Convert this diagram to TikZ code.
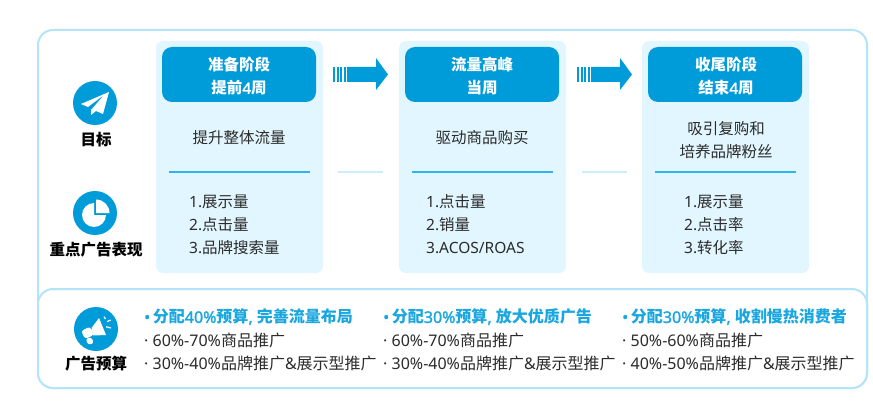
\documentclass[tikz,border=0pt]{standalone}
\usepackage{fontspec}
\setmainfont{Noto Sans CJK SC}
\newfontfamily\latinfont{Noto Sans}
\newfontfamily\latinboldfont[FakeBold=1.6]{Noto Sans}
\usepackage{tikz}
\definecolor{frameblue}{HTML}{B4E4F7}
\definecolor{panelblue}{HTML}{E2F6FF}
\definecolor{headblue}{HTML}{009BD9}
\definecolor{lineblue}{HTML}{2FB4EC}
\definecolor{faintblue}{HTML}{CDEDFA}
\definecolor{budgetblue}{HTML}{1AA7E0}
\definecolor{bodygray}{HTML}{2B2B2B}
\newcommand{\lat}[1]{{\latinfont #1}}
\newcommand{\latb}[1]{{\latinboldfont #1}}
\tikzset{
  frame/.style={draw=frameblue, line width=2pt, rounded corners=15pt},
  panel/.style={fill=panelblue, rounded corners=7pt},
  head/.style={fill=headblue, rounded corners=10pt},
  basetext/.style={inner sep=0pt, yshift=-1pt},
  headtext/.style={basetext, text=white, font=\fontsize{15.5}{15.5}\selectfont\bfseries},
  bodytext/.style={basetext, text=bodygray, font=\fontsize{15.5}{15.5}\selectfont},
  listtext/.style={bodytext, anchor=west},
  budgettext/.style={listtext, font=\fontsize{16}{16}\selectfont},
  sidetext/.style={basetext, text=black, font=\fontsize{15.5}{15.5}\selectfont\bfseries},
  budgethead/.style={basetext, text=budgetblue, font=\fontsize{16}{16}\selectfont\bfseries, anchor=west},
  iconcircle/.style={circle, fill=headblue, minimum size=44pt, inner sep=0pt}
}

\begin{document}
\begin{tikzpicture}[x=1pt, y=-1pt]

\useasboundingbox (0,0) rectangle (873,401);
\fill [white] (0,0) rectangle (873,401);

\draw [frame] (38,30) rectangle (867,388);
\draw [frame, fill=white] (38,289) rectangle (867,388);

% columns
\foreach \x in {156,399,642} {
  \fill [panel] (\x,41) rectangle (\x+167,273);
  \fill [head] (\x+6,47) rectangle (\x+160,102);
  \fill [lineblue] (\x+13,171.5) rectangle (\x+154,172.9);
}

% faint rules and arrows between columns
\foreach \x in {333,577} {
  \fill [faintblue] (\x+5,171.5) rectangle (\x+50,172.9);
  \fill [headblue] (\x+14,67) -- (\x+43,67) -- (\x+43,58) -- (\x+55,74.5) -- (\x+43,90) -- (\x+43,82) -- (\x+14,82) -- cycle;
  \foreach \s in {0,3.5,7,10.5} {\fill [headblue] (\x+\s,67) rectangle (\x+\s+2.4,82);}
}

% header text
\node [headtext] (heada1) at (239,64) {准备阶段};
\node [headtext] (heada2) at (239,87) {提前\latb{4}周};
\node [headtext] (headb1) at (482,64) {流量高峰};
\node [headtext] (headb2) at (482,87) {当周};
\node [headtext] (headc1) at (726,64) {收尾阶段};
\node [headtext] (headc2) at (726,87) {结束\latb{4}周};

% goals
\node [bodytext] (goala) at (239,137) {提升整体流量};
\node [bodytext] (goalb) at (482,137) {驱动商品购买};
\node [bodytext] (goalc1) at (726,128) {吸引复购和};
\node [bodytext] (goalc2) at (726,151) {培养品牌粉丝};

% lists
\node [listtext] (lista1) at (189,201) {\lat{1.}展示量};
\node [listtext] (lista2) at (189,224) {\lat{2.}点击量};
\node [listtext] (lista3) at (189,247) {\lat{3.}品牌搜索量};
\node [listtext] (listb1) at (426,201) {\lat{1.}点击量};
\node [listtext] (listb2) at (426,224) {\lat{2.}销量};
\node [listtext] (listb3) at (426,247) {\lat{3.ACOS/ROAS}};
\node [listtext] (listc1) at (684,201) {\lat{1.}展示量};
\node [listtext] (listc2) at (684,224) {\lat{2.}点击率};
\node [listtext] (listc3) at (684,247) {\lat{3.}转化率};

% side icons
\node [iconcircle] (icongoal) at (95,103) {};
\node [iconcircle] (iconpie) at (95,213) {};
\node [iconcircle] (iconhorn) at (96,329) {};

\fill [white] (109,92) -- (81,104) -- (88,107) -- (104,95) -- (91,110) -- (91,115) -- (96,111) -- (103,114) -- cycle;

\fill [white] (94,203) arc (-90:-360:12) -- (94,215) -- cycle;
\fill [white] (96,199.5) arc (-90:0:13.5) -- (96,213) -- cycle;

\fill [white] (91.5,328) -- (99,318) -- (106,335) -- (93,335.5) -- cycle;
\fill [white, rounded corners=3pt] (81,331) -- (90,326.5) -- (94,335) -- (85,339) -- cycle;
\fill [white, rounded corners=2.5pt] (85.5,339) -- (91,337) -- (94,343) -- (88.5,345) -- cycle;
\draw [white, line width=1.2pt] (104,316.7) -- (105.5,319) (107,321.7) -- (110.7,320) (106,326.7) -- (111,328);

\node [sidetext] (labelgoal) at (96,139) {目标};
\node [sidetext] (labelpie) at (96,249) {重点广告表现};
\node [sidetext] (labelhorn) at (96,363) {广告预算};

% budget
\node [budgethead] (budgeta) at (144,316) {\latb{•\,}分配\latb{40\%}预算\latb{, }完善流量布局};
\node [budgettext] (budgeta1) at (144,339) {\lat{· 60\%-70\%}商品推广};
\node [budgettext] (budgeta2) at (144,362) {\lat{· 30\%-40\%}品牌推广\lat{\&}展示型推广};
\node [budgethead] (budgetb) at (383,316) {\latb{•\,}分配\latb{30\%}预算\latb{, }放大优质广告};
\node [budgettext] (budgetb1) at (383,339) {\lat{· 60\%-70\%}商品推广};
\node [budgettext] (budgetb2) at (383,362) {\lat{· 30\%-40\%}品牌推广\lat{\&}展示型推广};
\node [budgethead] (budgetc) at (622,316) {\latb{•\,}分配\latb{30\%}预算\latb{, }收割慢热消费者};
\node [budgettext] (budgetc1) at (622,339) {\lat{· 50\%-60\%}商品推广};
\node [budgettext] (budgetc2) at (622,362) {\lat{· 40\%-50\%}品牌推广\lat{\&}展示型推广};

\end{tikzpicture}
\end{document}
